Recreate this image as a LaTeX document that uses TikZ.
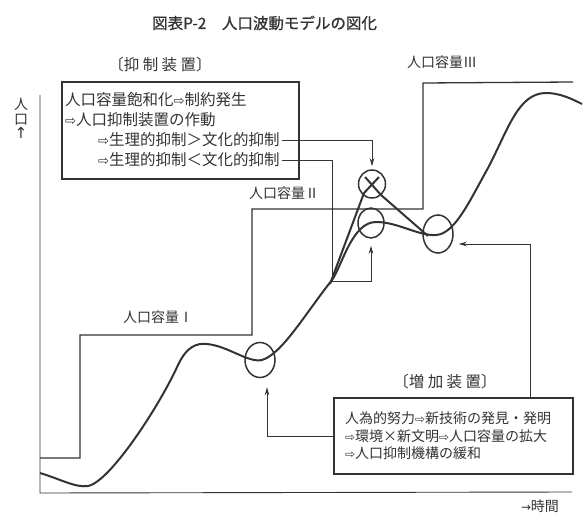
\documentclass[tikz,border=0pt]{standalone}
\usepackage{fontspec}
\setmainfont{Noto Sans CJK JP}
\newfontfamily\symfont[Scale=0.85]{DejaVu Sans}
\usetikzlibrary{arrows.meta,shapes.geometric,positioning}
\definecolor{ink}{HTML}{333333}
\newcommand{\RA}{{\symfont ⇨}}

\begin{document}
\begin{tikzpicture}[x=1pt,y=-1pt,
        >={Stealth[length=8pt,width=4.5pt]},
        every node/.style={text=ink,inner sep=0pt},
        axisline/.style={draw=ink,line width=0.9pt},
        capline/.style={draw=ink,line width=1.3pt},
        wave/.style={draw=ink,line width=2pt,line join=round},
        ring/.style={draw=ink,ellipse,line width=1.5pt},
        link/.style={draw=ink,line width=0.8pt,->},
        boxline/.style={draw=ink,line width=1.1pt,rectangle},
        big/.style={font=\fontsize{15.5}{18}\selectfont},
        mid/.style={font=\fontsize{14}{16}\selectfont},
    ]
    \useasboundingbox (0,0) rectangle (588,513);

    \node[big,anchor=west] (title) at (152,23) {\addfontfeatures{FakeBold=1}図表P-2　人口波動モデルの図化};

    % axes
    \draw[axisline] (40,95) -- (40,493) -- (572,492);
    \node[mid,align=center] (yname) at (21,118) {人\\[-1pt]口\\[-2pt]{\fontsize{18}{18}\selectfont\symfont ↑}};
    \node[mid] (xname) at (540,506) {{\symfont →}時間};

    % capacity steps
    \draw[capline] (40,458) -- (80,458) -- (80,335) -- (252,335) -- (252,209)
        -- (423,209) -- (423,83) -- (573,82);
    \node[mid] (capA) at (158,317) {人口容量Ⅰ};
    \node[mid] (capB) at (284,193) {人口容量Ⅱ};
    \node[mid] (capC) at (442,62) {人口容量Ⅲ};

    % population wave
    \draw[wave] (40,473) .. controls (60,479) and (76,488) .. (88,486)
        .. controls (110,482) and (160,405) .. (178,365)
        .. controls (187,346) and (197,343) .. (207,344)
        .. controls (228,346) and (248,363) .. (262,360)
        .. controls (282,354) and (305,314) .. (332,280)
        .. controls (342,266) and (352,222) .. (376,222)
        .. controls (398,222) and (418,236) .. (436,235)
        .. controls (455,234) and (470,200) .. (488,168)
        .. controls (508,130) and (518,93) .. (546,93)
        .. controls (560,93) and (572,99) .. (582,104);
    \draw[wave] (330,284) -- (364,193) -- (379,177);
    \draw[wave] (365,177) -- (381,195) -- (428,236);

    \node[ring,minimum width=30pt,minimum height=35pt] (cL) at (260,360) {};
    \node[ring,minimum width=27pt,minimum height=28pt] (cX) at (372,184) {};
    \node[ring,minimum width=26pt,minimum height=30pt] (cM) at (371,223) {};
    \node[ring,minimum width=30pt,minimum height=38pt] (cR) at (438,234) {};

    % restraint box
    \node[big] (headA) at (160,65) {〔抑 制 装 置〕};
    \node[boxline,minimum width=237pt,minimum height=97pt] (boxA) at (180.5,130.5) {};
    \node[big,anchor=west] (a1) at (65,100) {人口容量飽和化\RA 制約発生};
    \node[big,anchor=west] (a2) at (65,120) {\RA 人口抑制装置の作動};
    \node[big,anchor=west] (a3) at (98,140) {\RA 生理的抑制＞文化的抑制};
    \node[big,anchor=west] (a4) at (98,160) {\RA 生理的抑制＜文化的抑制};

    % growth box
    \node[big] (headB) at (445,382) {〔増 加 装 置〕};
    \node[boxline,minimum width=239pt,minimum height=76pt] (boxB) at (453.5,436) {};
    \node[mid,anchor=west] (b1) at (345,418) {人為的努力\RA 新技術の発見・発明};
    \node[mid,anchor=west] (b2) at (345,436) {\RA 環境×新文明\RA 人口容量の拡大};
    \node[mid,anchor=west] (b3) at (345,453) {\RA 人口抑制機構の緩和};

    % connectors
    \coordinate (k1) at (332,281);
    \draw[link,shorten >=3pt] ([xshift=2pt]a3.east) -| (cX.north);
    \draw[link] ([xshift=2pt]a4.east) -| (k1) -| ([yshift=-7pt]cM.south);
    \draw[link] (boxB.west) -| ([xshift=7pt,yshift=-9pt]cL.south);
    \draw[link] ([xshift=77pt]boxB.north) |- ([xshift=5pt,yshift=-10pt]cR.east);
\end{tikzpicture}
\end{document}
